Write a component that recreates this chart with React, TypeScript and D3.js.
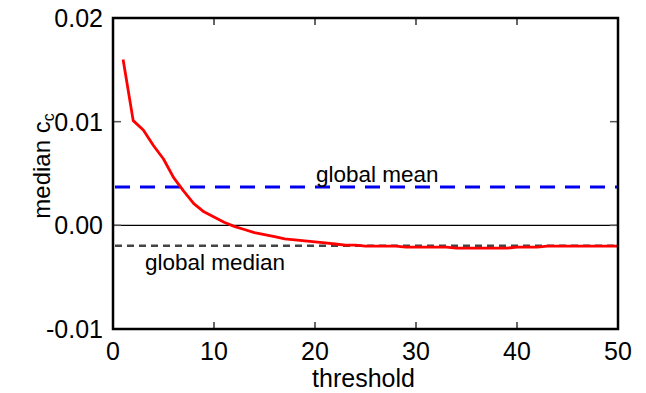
import React from 'react';
import * as d3 from 'd3';

const thresholds = [1, 2, 3, 4, 5, 6, 7, 8, 9, 10, 11, 12, 13, 14, 15, 16, 17, 18, 19, 20, 21, 22, 23, 24, 25,
  26, 27, 28, 29, 30, 31, 32, 33, 34, 35, 36, 37, 38, 39, 40, 41, 42, 43, 44, 45, 46, 47, 48, 49, 50];
const medianCc = [0.0160, 0.0101, 0.0092, 0.0077, 0.0064, 0.0046, 0.0033, 0.0021, 0.0013, 0.0008,
  0.0003, -0.0001, -0.0004, -0.0007, -0.0009, -0.0011, -0.0013, -0.0014, -0.0015, -0.0016,
  -0.0017, -0.0018, -0.0019, -0.0019, -0.0020, -0.0020, -0.0020, -0.0020, -0.0021, -0.0021,
  -0.0021, -0.0021, -0.0021, -0.0022, -0.0022, -0.0022, -0.0022, -0.0022, -0.0022, -0.0021,
  -0.0021, -0.0021, -0.0020, -0.0020, -0.0020, -0.0020, -0.0020, -0.0020, -0.0020, -0.0020];
const globalMean = 0.0037;
const globalMedian = -0.00197;
const xTicks = [0, 10, 20, 30, 40, 50];
const yTicks = [-0.01, 0, 0.01, 0.02];

const W = 646;
const H = 393;
const left = 113, right = 618, top = 18, bottom = 329;
const font = '"Liberation Sans", Arial, sans-serif';

export default function App() {
  const x = d3.scaleLinear().domain([0, 50]).range([left, right]);
  const y = d3.scaleLinear().domain([-0.01, 0.02]).range([bottom, top]);

  const line = d3.line<number>()
    .x((_, i) => x(thresholds[i]))
    .y(d => y(d));

  // hyphen minus, like the original
  const fmtY = (v: number) => v.toFixed(2);

  return (
    <svg width={W} height={H} style={{ position: 'absolute', left: 0, top: 0 }}>
      <rect width={W} height={H} fill="white" />
      {/* zero line */}
      <line x1={left} x2={right} y1={y(0)} y2={y(0)} stroke="black" strokeWidth={1.2} />
      {/* global mean / median */}
      <line x1={left + 2} x2={right} y1={y(globalMean)} y2={y(globalMean)}
        stroke="#0000ee" strokeWidth={3} strokeDasharray="15,10" />
      <line x1={left + 2} x2={right} y1={y(globalMedian)} y2={y(globalMedian)}
        stroke="#444" strokeWidth={2.5} strokeDasharray="7,5" />
      <text x={316} y={y(globalMean) - 5} fontFamily={font} fontSize={22.5}>global mean</text>
      <text x={145} y={y(globalMedian) + 24} fontFamily={font} fontSize={22.5}>global median</text>
      {/* data */}
      <path d={line(medianCc) ?? ''} fill="none" stroke="#ff0000" strokeWidth={2.8} strokeLinejoin="round" />
      {/* ticks */}
      {xTicks.slice(1, -1).map(t => (
        <g key={'xt' + t}>
          <line x1={x(t)} x2={x(t)} y1={bottom} y2={bottom - 7} stroke="black" strokeWidth={1.2} />
          <line x1={x(t)} x2={x(t)} y1={top} y2={top + 7} stroke="black" strokeWidth={1.2} />
        </g>
      ))}
      {yTicks.slice(1, -1).map(t => (
        <g key={'yt' + t}>
          <line x1={left} x2={left + 8} y1={y(t)} y2={y(t)} stroke="#555" strokeWidth={1.5} />
          <line x1={right} x2={right - 8} y1={y(t)} y2={y(t)} stroke="#555" strokeWidth={1.5} />
        </g>
      ))}
      {/* frame */}
      <rect x={left} y={top} width={right - left} height={bottom - top} fill="none" stroke="black" strokeWidth={2.5} />
      {/* tick labels */}
      {xTicks.map(t => (
        <text key={'xl' + t} x={x(t)} y={bottom + 31} textAnchor="middle" fontFamily={font} fontSize={25}>{t}</text>
      ))}
      {yTicks.map(t => (
        <text key={'yl' + t} x={left - 10} y={y(t) + 9} textAnchor="end" fontFamily={font} fontSize={25}>{fmtY(t)}</text>
      ))}
      <text x={(left + right) / 2 - 2} y={387} textAnchor="middle" fontFamily={font} fontSize={25}>threshold</text>
      <text transform={`translate(50,166) rotate(-90)`} textAnchor="middle" fontFamily={font} fontSize={24}>
        median c<tspan fontSize={16} dy={4}>c</tspan>
      </text>
    </svg>
  );
}
